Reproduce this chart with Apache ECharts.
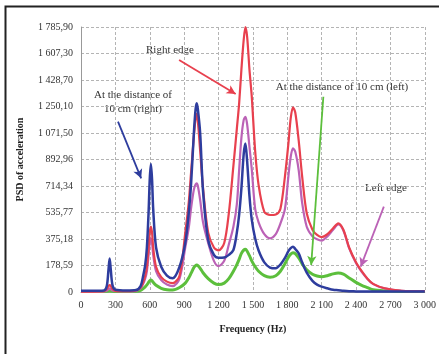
<!DOCTYPE html>
<html>
<head>
<meta charset="utf-8">
<script src="https://cdn.jsdelivr.net/npm/echarts@6/dist/echarts.min.js"></script>
<style>
  html, body { margin: 0; padding: 0; background: #fff; }
  #container { width: 439px; height: 354px; }
</style>
</head>
<body>
<div id="container"></div>
<script>
// frequency points (Hz)
var freq = [0, 100, 200, 225, 240, 250, 260, 275, 300, 400, 480, 520, 540, 560, 575, 590, 600, 610, 620, 630, 655, 700, 750, 800, 860, 910, 940, 960, 985, 1000, 1010, 1020, 1040, 1065, 1110, 1160, 1200, 1250, 1290, 1330, 1360, 1380, 1400, 1420, 1435, 1450, 1470, 1490, 1520, 1550, 1600, 1650, 1700, 1740, 1780, 1810, 1830, 1850, 1870, 1900, 1930, 1970, 2020, 2060, 2100, 2150, 2200, 2245, 2290, 2340, 2400, 2450, 2500, 2550, 2650, 2800, 3000];

// 10 cm (right) - blue
var blueVals = [8, 8, 10, 40, 150, 225, 150, 45, 15, 10, 13, 40, 100, 180, 300, 540, 760, 862, 760, 560, 300, 170, 110, 92, 170, 330, 530, 720, 1070, 1230, 1272, 1230, 1070, 680, 350, 250, 230, 232, 250, 283, 400, 520, 700, 930, 1000, 880, 650, 490, 360, 280, 200, 165, 160, 185, 230, 275, 295, 305, 290, 260, 200, 130, 75, 50, 36, 25, 15, 12, 8, 5, 4, 3, 3, 3, 3, 3, 3];
// right edge - red
var redVals = [3, 3, 5, 20, 40, 47, 40, 20, 8, 5, 10, 30, 60, 110, 170, 300, 400, 440, 400, 300, 170, 100, 70, 60, 110, 400, 600, 800, 1050, 1170, 1200, 1150, 950, 700, 400, 300, 280, 330, 530, 850, 1100, 1270, 1500, 1700, 1785, 1720, 1500, 1320, 950, 720, 540, 519, 523, 560, 780, 1000, 1170, 1245, 1210, 1020, 780, 531, 420, 385, 370, 390, 430, 463, 420, 300, 200, 140, 90, 55, 25, 8, 5];
// left edge - magenta
var magentaVals = [3, 3, 4, 10, 20, 25, 20, 10, 5, 4, 8, 25, 50, 90, 140, 250, 330, 360, 330, 250, 140, 80, 50, 40, 90, 300, 430, 560, 690, 725, 733, 715, 620, 470, 330, 210, 175, 210, 320, 440, 590, 820, 1040, 1160, 1181, 1130, 980, 830, 560, 470, 390, 362, 390, 460, 560, 780, 910, 968, 945, 820, 600, 440, 375, 355, 346, 375, 420, 455, 415, 295, 195, 135, 88, 53, 24, 8, 5];
// 10 cm (left) - green
var greenVals = [3, 3, 3, 5, 7, 8, 7, 5, 3, 3, 5, 12, 22, 35, 48, 65, 76, 81, 76, 65, 45, 25, 15, 13, 30, 60, 95, 125, 165, 178, 182, 178, 160, 130, 90, 60, 50, 60, 90, 140, 185, 220, 260, 282, 288, 275, 245, 210, 170, 140, 110, 100, 110, 140, 190, 235, 255, 265, 258, 230, 190, 150, 120, 108, 103, 110, 122, 128, 120, 95, 65, 45, 30, 15, 8, 4, 3];

var yLabels = ['0', '178,59', '375,18', '535,77', '714,34', '892,96', '1 071,50', '1 250,10', '1 428,70', '1 607,30', '1 785,90'];
var xLabels = ['0', '300', '600', '900', '1 200', '1 500', '1 800', '2 100', '2 400', '2 700', '3 000'];

// annotation arrows [from, to] in data units
var arrowBlue = [[323, 1148], [525, 766]];
var arrowRed = [[856, 1563], [1350, 1335]];
var arrowGreen = [[2115, 1316], [2009, 182]];
var arrowMagenta = [[2643, 575], [2441, 171]];

function pairs(vals){
	var out = [];
	for (var i = 0; i < freq.length; i++) out.push([freq[i], vals[i]]);
	return out;
}

function arrow(a, color){
	return {
		silent: true,
		animation: false,
		symbol: ['none', 'arrow'],
		symbolSize: [7, 9],
		label: { show: false },
		lineStyle: { color: color, width: 1.8, type: 'solid' },
		data: [[{ coord: a[0] }, { coord: a[1] }]]
	};
}

var serif = '"Liberation Serif", "DejaVu Serif", serif';

function line(name, vals, color, width, a){
	return {
		name: name,
		type: 'line',
		data: pairs(vals),
		smooth: 0.3,
		showSymbol: false,
		lineStyle: { color: color, width: width },
		itemStyle: { color: color },
		markLine: arrow(a, color),
		z: 3
	};
}

var myChart = echarts.init(document.getElementById('container'));
var option = {
	animation: false,
	backgroundColor: '#fff',
	grid: { left: 81, top: 27, right: 11, bottom: 62 },
	xAxis: {
		type: 'value',
		min: 0, max: 3000, interval: 300,
		name: 'Frequency (Hz)',
		nameLocation: 'middle',
		nameGap: 32,
		nameTextStyle: { fontFamily: serif, fontWeight: 'bold', fontSize: 10, color: '#222' },
		axisLine: { lineStyle: { color: '#999' } },
		axisTick: { show: false },
		axisLabel: {
			fontFamily: serif, fontSize: 10, color: '#333', margin: 8,
			formatter: function(v){ return xLabels[Math.round(v / 300)]; }
		},
		splitLine: { show: true, lineStyle: { color: '#b4b4b4', type: [3, 2] } }
	},
	yAxis: {
		type: 'value',
		min: 0, max: 1785.9, interval: 178.59,
		name: 'PSD of acceleration',
		nameLocation: 'middle',
		nameGap: 56,
		nameRotate: 90,
		nameTextStyle: { fontFamily: serif, fontWeight: 'bold', fontSize: 10, color: '#222' },
		axisLine: { show: true, lineStyle: { color: '#999' } },
		axisTick: { show: false },
		axisLabel: {
			fontFamily: serif, fontSize: 10, color: '#333', margin: 8,
			formatter: function(v){ return yLabels[Math.round(v / 178.59)]; }
		},
		splitLine: { show: true, lineStyle: { color: '#b4b4b4', type: [3, 2] } }
	},
	series: [
		line('At the distance of 10 cm (left)', greenVals, '#5cbf3c', 3, arrowGreen),
		line('Left edge', magentaVals, '#bb62b6', 2.2, arrowMagenta),
		line('Right edge', redVals, '#e8404e', 2.2, arrowRed),
		line('At the distance of 10 cm (right)', blueVals, '#2e3d9e', 2.5, arrowBlue)
	],
	graphic: [
		{ type: 'rect', left: 3, top: 4, shape: { width: 500, height: 420 }, style: { fill: 'none', stroke: '#222', lineWidth: 2 }, silent: true },
		{ type: 'text', x: 170, y: 50, style: { text: 'Right edge', font: '11px ' + serif, fill: '#333', align: 'center', verticalAlign: 'middle' } },
		{ type: 'text', x: 133, y: 95, style: { text: 'At the distance of', font: '11px ' + serif, fill: '#333', align: 'center', verticalAlign: 'middle' } },
		{ type: 'text', x: 133, y: 109, style: { text: '10 cm (right)', font: '11px ' + serif, fill: '#333', align: 'center', verticalAlign: 'middle' } },
		{ type: 'text', x: 342, y: 87, style: { text: 'At the distance of 10 cm (left)', font: '11px ' + serif, fill: '#333', align: 'center', verticalAlign: 'middle' } },
		{ type: 'text', x: 386, y: 188, style: { text: 'Left edge', font: '11px ' + serif, fill: '#333', align: 'center', verticalAlign: 'middle' } }
	]
};
myChart.setOption(option);
</script>
</body>
</html>
